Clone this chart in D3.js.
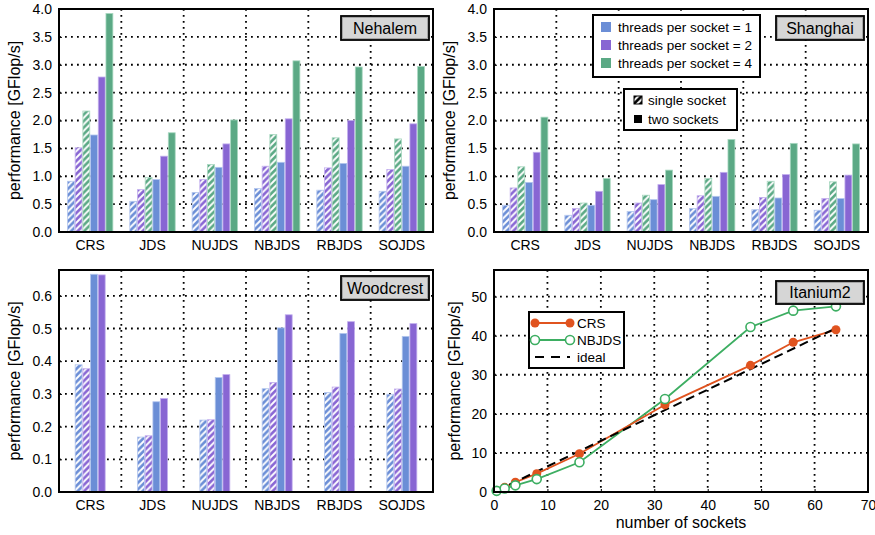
<!DOCTYPE html>
<html><head><meta charset="utf-8">
<script src="https://cdn.jsdelivr.net/npm/d3@7"></script>
<style>body{margin:0;background:#fff;} text{font-family:"Liberation Sans",Arial,sans-serif;}</style>
</head><body><svg id="c" width="875" height="535"></svg>
<script>
const categories = ["CRS","JDS","NUJDS","NBJDS","RBJDS","SOJDS"];
// Nehalem
const nehSingle1 = [0.91, 0.55, 0.71, 0.78, 0.75, 0.73];
const nehSingle2 = [1.51, 0.76, 0.94, 1.18, 1.15, 1.12];
const nehSingle4 = [2.17, 0.98, 1.21, 1.75, 1.69, 1.67];
const nehTwo1    = [1.74, 0.94, 1.16, 1.25, 1.23, 1.18];
const nehTwo2    = [2.78, 1.36, 1.58, 2.03, 2.00, 1.94];
const nehTwo4    = [3.92, 1.78, 2.01, 3.07, 2.96, 2.97];
// Shanghai
const shaSingle1 = [0.48, 0.30, 0.37, 0.42, 0.40, 0.39];
const shaSingle2 = [0.79, 0.42, 0.52, 0.65, 0.62, 0.60];
const shaSingle4 = [1.17, 0.52, 0.66, 0.96, 0.91, 0.90];
const shaTwo1    = [0.89, 0.48, 0.58, 0.64, 0.61, 0.60];
const shaTwo2    = [1.43, 0.73, 0.85, 1.07, 1.03, 1.02];
const shaTwo4    = [2.06, 0.96, 1.11, 1.66, 1.59, 1.58];
// Woodcrest
const wooSingle1 = [0.389, 0.168, 0.220, 0.316, 0.304, 0.299];
const wooSingle2 = [0.377, 0.172, 0.221, 0.335, 0.321, 0.315];
const wooTwo1    = [0.666, 0.276, 0.350, 0.502, 0.485, 0.476];
const wooTwo2    = [0.664, 0.286, 0.359, 0.542, 0.521, 0.515];
// Itanium2
const itaSockets = [0.5, 2, 4, 8, 16, 32, 48, 56, 64];
const itaCRS     = [0.4, 1.2, 2.5, 4.7, 9.8, 22.3, 32.4, 38.3, 41.5];
const itaNBJDS   = [0.3, 0.9, 1.7, 3.3, 7.6, 23.8, 42.2, 46.4, 47.5];
const idealSockets = [0.5, 64];
const idealPerf    = [0.33, 41.9];
// ticks
const ticks4 = [0,0.5,1,1.5,2,2.5,3,3.5,4];
const ticksWoo = [0,0.1,0.2,0.3,0.4,0.5,0.6];
const ticksItaY = [0,10,20,30,40,50];
const ticksItaX = [0,10,20,30,40,50,60,70];

const COL = {t1:"#6b8ed6", t2:"#8866d3", t4:"#5ba985"};
const EDGE = {t1:"#b3c6ee", t2:"#c2aeee", t4:"#a8d8c0"};

const svg = d3.select("#c");
const defs = svg.append("defs");
function hatch(id, col){
  const p = defs.append("pattern").attr("id",id).attr("patternUnits","userSpaceOnUse")
    .attr("width",6.5).attr("height",6.5);
  p.append("rect").attr("width",6.5).attr("height",6.5).attr("fill",col);
  p.append("path").attr("d","M0,6.5 L6.5,0 M-1.5,1.5 L1.5,-1.5 M5,8 L8,5")
    .attr("stroke","#fff").attr("stroke-width",1.9);
}
hatch("h1",COL.t1); hatch("h2",COL.t2); hatch("h4",COL.t4); hatch("hk","#000");

const dots = {stroke:"#000","stroke-width":1.8,"stroke-dasharray":"1.8,4.2"};
function applyDots(sel){ Object.entries(dots).forEach(([k,v])=>sel.attr(k,v)); return sel; }

function frame(x0,x1,y0,y1){
  svg.append("rect").attr("x",x0).attr("y",y0).attr("width",x1-x0).attr("height",y1-y0)
    .attr("fill","none").attr("stroke","#000").attr("stroke-width",2);
}
function yTitle(x, y0, y1){
  svg.append("text").attr("transform",`translate(${x},${(y0+y1)/2}) rotate(-90)`)
    .attr("text-anchor","middle").attr("font-size",16).text("performance [GFlop/s]");
}
function labelBox(x,y,w,h,txt){
  svg.append("rect").attr("x",x).attr("y",y).attr("width",w).attr("height",h)
    .attr("fill","#d6d6d6").attr("stroke","#000").attr("stroke-width",1.8);
  svg.append("rect").attr("x",x+1.5).attr("y",y+1.5).attr("width",w-3).attr("height",h-3)
    .attr("fill","none").attr("stroke","#9a9a9a").attr("stroke-width",0.8);
  svg.append("text").attr("x",x+w/2).attr("y",y+h/2+5.5).attr("text-anchor","middle")
    .attr("font-size",16).text(txt);
}

function barPanel(opt){
  const {x0,x1,y0,y1,ymax,ticks,fmt,series,name,box} = opt;
  const x = d3.scaleBand().domain(categories).range([x0,x1]).padding(0);
  const y = d3.scaleLinear().domain([0,ymax]).range([y1,y0]);
  const bw = 7.7;
  const inner = d3.scaleBand().domain(series.map((s,i)=>i)).range([0,bw*series.length]);
  const g = svg.append("g");
  ticks.filter(t=>t>0 && y(t)>y0+1).forEach(t=>{
    applyDots(g.append("line").attr("x1",x0).attr("x2",x1).attr("y1",y(t)).attr("y2",y(t)));
  });
  categories.slice(1).forEach(c=>{
    applyDots(g.append("line").attr("x1",x(c)).attr("x2",x(c)).attr("y1",y0).attr("y2",y1));
  });
  series.forEach((s,i)=>{
    g.selectAll(null).data(s.values).enter().append("rect")
      .attr("x",(d,j)=>x(categories[j])+x.bandwidth()/2-bw*series.length/2+inner(i)+0.4)
      .attr("width",inner.bandwidth()-0.8)
      .attr("y",d=>y(d)).attr("height",d=>y1-y(d))
      .attr("fill",s.hatched?`url(#h${s.t})`:COL["t"+s.t])
      .attr("stroke",EDGE["t"+s.t]).attr("stroke-width",0.8);
  });
  const ay = svg.append("g").attr("transform",`translate(${x0},0)`)
    .call(d3.axisLeft(y).tickValues(ticks).tickFormat(fmt).tickSize(3).tickPadding(4));
  ay.select(".domain").remove();
  ay.selectAll("line").attr("transform","translate(3,0)");
  ay.selectAll("text").attr("font-size",14).attr("font-family","Liberation Sans, Arial").attr("fill","#000");
  const ax = svg.append("g").attr("transform",`translate(0,${y1})`)
    .call(d3.axisBottom(x).tickSize(0).tickPadding(8));
  ax.select(".domain").remove();
  ax.selectAll("text").attr("font-size",14).attr("font-family","Liberation Sans, Arial").attr("fill","#000");
  frame(x0,x1,y0,y1);
  yTitle(x0-39, y0, y1);
  labelBox(box[0],box[1],box[2],box[3],name);
}

barPanel({x0:59,x1:433,y0:9,y1:232,ymax:4,ticks:ticks4,fmt:d3.format(".1f"),name:"Nehalem",box:[341,16,88,24],
  series:[{values:nehSingle1,t:1,hatched:true},{values:nehSingle2,t:2,hatched:true},{values:nehSingle4,t:4,hatched:true},
          {values:nehTwo1,t:1},{values:nehTwo2,t:2},{values:nehTwo4,t:4}]});
barPanel({x0:494,x1:868,y0:9,y1:232,ymax:4,ticks:ticks4,fmt:d3.format(".1f"),name:"Shanghai",box:[776,16,88,24],
  series:[{values:shaSingle1,t:1,hatched:true},{values:shaSingle2,t:2,hatched:true},{values:shaSingle4,t:4,hatched:true},
          {values:shaTwo1,t:1},{values:shaTwo2,t:2},{values:shaTwo4,t:4}]});
barPanel({x0:59,x1:433,y0:270,y1:492,ymax:0.679,ticks:ticksWoo,fmt:d3.format(".1f"),name:"Woodcrest",box:[341,276,88,24],
  series:[{values:wooSingle1,t:1,hatched:true},{values:wooSingle2,t:2,hatched:true},
          {values:wooTwo1,t:1},{values:wooTwo2,t:2}]});

(function(){
  const lg = svg.append("g");
  lg.append("rect").attr("x",593).attr("y",15).attr("width",167).attr("height",62)
    .attr("fill","#fff").attr("stroke","#000").attr("stroke-width",2);
  const items = [["t1","threads per socket = 1"],["t2","threads per socket = 2"],["t4","threads per socket = 4"]];
  items.forEach((it,i)=>{
    const cy = 27 + i*18;
    lg.append("rect").attr("x",601).attr("y",cy-5).attr("width",10).attr("height",10).attr("fill",COL[it[0]]);
    lg.append("text").attr("x",618).attr("y",cy+5).attr("font-size",13.5).text(it[1]);
  });
  lg.append("rect").attr("x",624).attr("y",89).attr("width",113).attr("height",41)
    .attr("fill","#fff").attr("stroke","#000").attr("stroke-width",2);
  lg.append("rect").attr("x",634).attr("y",96).attr("width",8).attr("height",8).attr("fill","url(#hk)").attr("stroke","#000").attr("stroke-width",1);
  lg.append("text").attr("x",648).attr("y",105).attr("font-size",13.5).text("single socket");
  lg.append("rect").attr("x",634).attr("y",115).attr("width",8).attr("height",8).attr("fill","#000");
  lg.append("text").attr("x",648).attr("y",124).attr("font-size",13.5).text("two sockets");
})();

(function(){
  const x0=494,x1=868,y0=270,y1=492;
  const x = d3.scaleLinear().domain([0,70]).range([x0,x1]);
  const y = d3.scaleLinear().domain([0,56.8]).range([y1,y0]);
  const g = svg.append("g");
  ticksItaY.filter(t=>t>0).forEach(t=>applyDots(g.append("line").attr("x1",x0).attr("x2",x1).attr("y1",y(t)).attr("y2",y(t))));
  ticksItaX.filter(t=>t>0&&t<70).forEach(t=>applyDots(g.append("line").attr("x1",x(t)).attr("x2",x(t)).attr("y1",y0).attr("y2",y1)));
  const line = d3.line().x(d=>x(d[0])).y(d=>y(d[1]));
  const crs = itaSockets.map((s,i)=>[s,itaCRS[i]]);
  const nb = itaSockets.map((s,i)=>[s,itaNBJDS[i]]);
  const ideal = idealSockets.map((s,i)=>[s,idealPerf[i]]);
  g.append("path").attr("d",line(nb)).attr("fill","none").attr("stroke","#3dae62").attr("stroke-width",1.8);
  g.append("path").attr("d",line(crs)).attr("fill","none").attr("stroke","#e0531f").attr("stroke-width",1.8);
  g.append("path").attr("d",line(ideal)).attr("fill","none").attr("stroke","#000").attr("stroke-width",2).attr("stroke-dasharray","9,5");
  g.selectAll(null).data(crs).enter().append("circle").attr("cx",d=>x(d[0])).attr("cy",d=>y(d[1])).attr("r",4.5).attr("fill","#e0531f");
  g.selectAll(null).data(nb).enter().append("circle").attr("cx",d=>x(d[0])).attr("cy",d=>y(d[1])).attr("r",4.5)
    .attr("fill","#fff").attr("stroke","#3dae62").attr("stroke-width",1.6);
  const ay = svg.append("g").attr("transform",`translate(${x0},0)`)
    .call(d3.axisLeft(y).tickValues(ticksItaY).tickSize(3).tickPadding(4));
  ay.select(".domain").remove();
  ay.selectAll("line").attr("transform","translate(3,0)");
  ay.selectAll("text").attr("font-size",14).attr("font-family","Liberation Sans, Arial").attr("fill","#000");
  const ax = svg.append("g").attr("transform",`translate(0,${y1})`)
    .call(d3.axisBottom(x).tickValues(ticksItaX).tickSize(3).tickPadding(5));
  ax.select(".domain").remove();
  ax.selectAll("line").attr("transform","translate(0,-3)");
  ax.selectAll("text").attr("font-size",14).attr("font-family","Liberation Sans, Arial").attr("fill","#000");
  frame(x0,x1,y0,y1);
  yTitle(x0-34, y0, y1);
  svg.append("text").attr("x",(x0+x1)/2).attr("y",528).attr("text-anchor","middle").attr("font-size",16).text("number of sockets");
  labelBox(776,281,88,23,"Itanium2");
  const lg = svg.append("g");
  lg.append("rect").attr("x",529).attr("y",312).attr("width",95).attr("height",56)
    .attr("fill","#fff").attr("stroke","#000").attr("stroke-width",2);
  const ly = [323,340,357];
  lg.append("line").attr("x1",535).attr("x2",570).attr("y1",ly[0]).attr("y2",ly[0]).attr("stroke","#e0531f").attr("stroke-width",1.8);
  [535,570].forEach(cx=>lg.append("circle").attr("cx",cx).attr("cy",ly[0]).attr("r",4.5).attr("fill","#e0531f"));
  lg.append("line").attr("x1",535).attr("x2",570).attr("y1",ly[1]).attr("y2",ly[1]).attr("stroke","#3dae62").attr("stroke-width",1.8);
  [535,570].forEach(cx=>lg.append("circle").attr("cx",cx).attr("cy",ly[1]).attr("r",4.5).attr("fill","#fff").attr("stroke","#3dae62").attr("stroke-width",1.6));
  lg.append("line").attr("x1",535).attr("x2",570).attr("y1",ly[2]).attr("y2",ly[2]).attr("stroke","#000").attr("stroke-width",2).attr("stroke-dasharray","9,7");
  ["CRS","NBJDS","ideal"].forEach((t,i)=>lg.append("text").attr("x",577).attr("y",ly[i]+5).attr("font-size",13.5).text(t));
})();
</script></body></html>
